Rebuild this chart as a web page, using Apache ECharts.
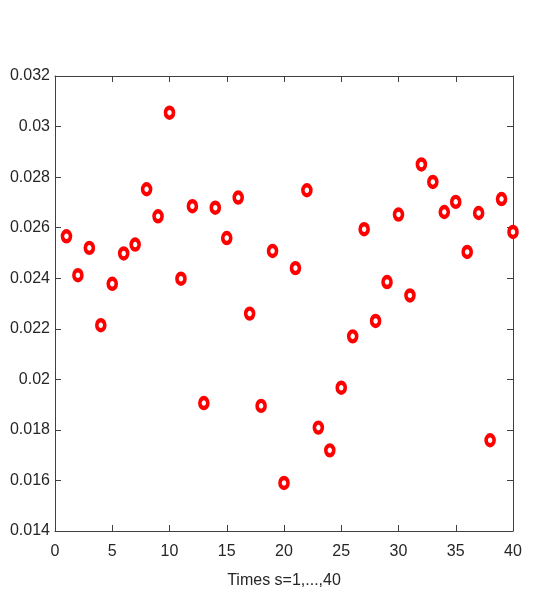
<!DOCTYPE html>
<html>
<head>
<meta charset="utf-8">
<script src="https://cdn.jsdelivr.net/npm/echarts@6/dist/echarts.min.js"></script>
<style>
  html, body { margin: 0; padding: 0; background: #fff; }
  #chart { width: 545px; height: 599px; }
</style>
</head>
<body>
<div id="chart"></div>
<script>
// sample index s = 1..40
var times = [1,2,3,4,5,6,7,8,9,10,11,12,13,14,15,16,17,18,19,20,
             21,22,23,24,25,26,27,28,29,30,31,32,33,34,35,36,37,38,39,40];
// values
var values = [0.02566,0.02412,0.02520,0.02214,0.02378,0.02498,0.02533,0.02752,0.02645,0.03055,
              0.02398,0.02685,0.01906,0.02679,0.02559,0.02719,0.02260,0.01895,0.02508,0.01590,
              0.02440,0.02748,0.01809,0.01719,0.01967,0.02170,0.02594,0.02231,0.02385,0.02652,
              0.02332,0.02850,0.02781,0.02662,0.02702,0.02504,0.02658,0.01759,0.02713,0.02583];
var xTicks = { min: 0, max: 40, interval: 5 };
var yTicks = { min: 0.014, max: 0.032, interval: 0.002 };

var font = "'Liberation Sans', Arial, sans-serif";
var axisColor = '#404040';

var points = times.map(function (t, i) { return [t, values[i]]; });

var boxAxis = function (extra) {
  return Object.assign({
    type: 'value',
    axisLine: { show: true, onZero: false, lineStyle: { color: axisColor, width: 1 } },
    axisTick: { show: true, inside: true, length: 6, lineStyle: { color: axisColor } },
    splitLine: { show: false }
  }, extra);
};

var chart = echarts.init(document.getElementById('chart'));
chart.setOption({
  backgroundColor: '#fff',
  animation: false,
  grid: { left: 55, right: 32, top: 76, bottom: 68, containLabel: false },
  xAxis: [
    boxAxis({
      min: xTicks.min, max: xTicks.max, interval: xTicks.interval,
      position: 'bottom',
      name: 'Times s=1,...,40',
      nameLocation: 'middle',
      nameGap: 42,
      nameTextStyle: { color: '#262626', fontFamily: font, fontSize: 16 },
      axisLabel: { color: '#262626', fontFamily: font, fontSize: 16, margin: 13 }
    }),
    boxAxis({
      min: xTicks.min, max: xTicks.max, interval: xTicks.interval,
      position: 'top',
      axisLabel: { show: false }
    })
  ],
  yAxis: [
    boxAxis({
      min: yTicks.min, max: yTicks.max, interval: yTicks.interval,
      position: 'left',
      axisLabel: {
        color: '#262626', fontFamily: font, fontSize: 16, margin: 5,
        formatter: function (v) { return String(+v.toFixed(3)); }
      }
    }),
    boxAxis({
      min: yTicks.min, max: yTicks.max, interval: yTicks.interval,
      position: 'right',
      axisLabel: { show: false }
    })
  ],
  series: [{
    type: 'scatter',
    data: points,
    xAxisIndex: 0,
    yAxisIndex: 0,
    clip: false,
    symbol: 'circle',
    symbolSize: [8, 10],
    itemStyle: { color: '#ffffff', borderColor: '#ff0000', borderWidth: 4, opacity: 1 }
  }]
});
</script>
</body>
</html>
